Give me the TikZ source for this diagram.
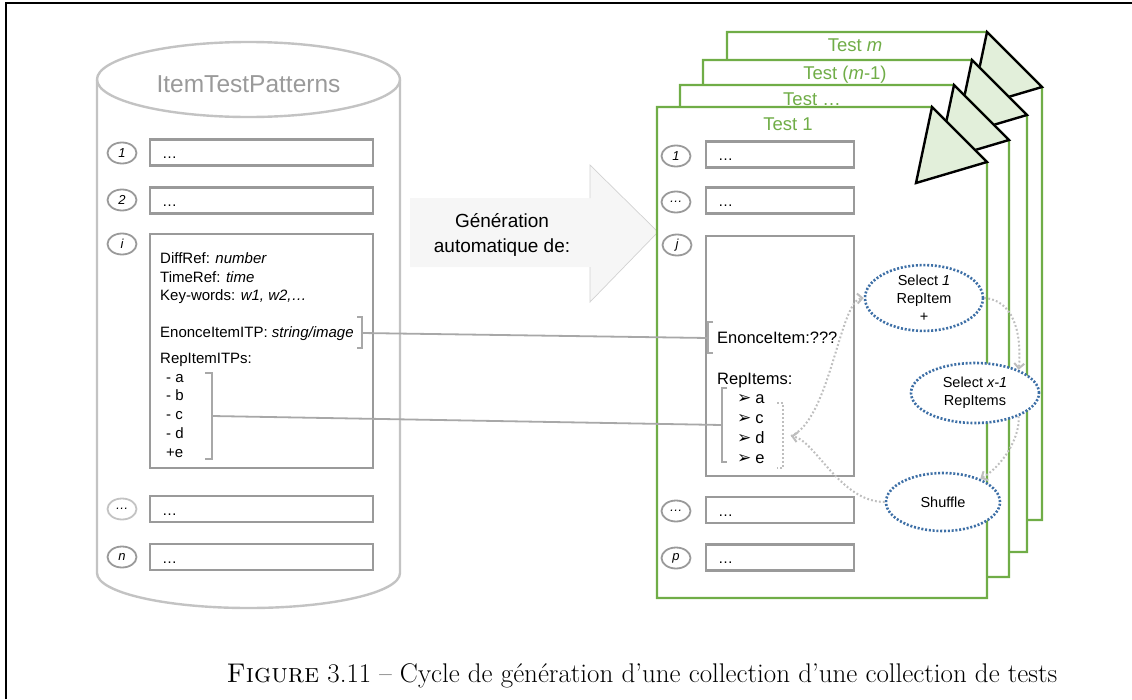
\documentclass[tikz,border=0pt]{standalone}
\usepackage{fontspec}
\newfontfamily\arialfont{Liberation Sans}
\newfontfamily\dingfont{DejaVu Sans}
\usetikzlibrary{shapes.geometric, arrows.meta}

\definecolor{boxgray}{HTML}{9A9A9A}
\definecolor{cylgray}{HTML}{C3C3C3}
\definecolor{linkgray}{HTML}{A8A8A8}
\definecolor{flowgray}{HTML}{BEBEBE}
\definecolor{testgreen}{HTML}{70AD47}
\definecolor{foldgreen}{HTML}{E2EFDA}
\definecolor{selblue}{HTML}{3D6FA6}
\definecolor{arrowfill}{HTML}{F6F6F6}

\begin{document}
\begin{tikzpicture}[x=1pt, y=-1pt,
  rowbox/.style={draw=boxgray, line width=2.4pt, inner xsep=12pt, inner ysep=0pt, text width=#1, text height=12pt, text depth=0pt, minimum height=26pt, align=left, font=\arialfont\fontsize{15}{18}\selectfont},
  numlabel/.style={draw=boxgray, line width=1.8pt, ellipse, minimum width=29pt, minimum height=21pt, inner sep=0pt, font=\arialfont\itshape\fontsize{13}{15}\selectfont},
  itemtext/.style={anchor=base west, inner sep=0pt, font=\arialfont\fontsize{#1}{18}\selectfont},
  brack/.style={draw=linkgray, line width=2pt},
  link/.style={draw=linkgray, line width=1.8pt},
  page/.style={draw=testgreen, line width=2.4pt, fill=white, line join=miter},
  fold/.style={draw=black, line width=2.4pt, fill=foldgreen, line join=miter},
  pagetitle/.style={anchor=base, inner sep=0pt, text=testgreen, font=\arialfont\fontsize{18.5}{22}\selectfont},
  action/.style={draw=selblue, fill=white, line width=2.6pt, dash pattern=on 2pt off 1.8pt, ellipse, inner sep=0pt, align=center, font=\arialfont\fontsize{14.5}{18}\selectfont},
  flow/.style={draw=flowgray, line width=2pt, dash pattern=on 1.8pt off 2.2pt, -{Straight Barb[length=5pt, width=10pt]}}
]
  \useasboundingbox (0,0) rectangle (1132,699);
  \draw [line width=1.4pt] (6,699) -- (6,3) -- (1132,3);

  % ItemTestPatterns repository
  \draw [cylgray, line width=2.4pt] (97,80) -- (97,573) arc [start angle=180, end angle=0, x radius=151.5, y radius=35] -- (400,80);
  \draw [cylgray, line width=2.4pt] (248.5,79.5) ellipse [x radius=151.5, y radius=37.5];
  \node (itp) at (248.5,84) [text=boxgray, font=\arialfont\fontsize{24.5}{28}\selectfont] {ItemTestPatterns};

  \node (l1) at (261.5,152.5) [rowbox=199pt] {…};
  \node (l2) at (261.5,200.5) [rowbox=199pt] {…};
  \node (li) at (261.5,351) [rowbox=199pt, minimum height=234pt] {};
  \node (lk) at (261.5,509) [rowbox=199pt] {…};
  \node (ln) at (261.5,557) [rowbox=199pt] {…};
  \node (c1) at (122,153) [numlabel] {1};
  \node (c2) at (122,200) [numlabel] {2};
  \node (ci) at (122,244) [numlabel] {i};
  \node (ck) at (122,509) [numlabel, draw=cylgray] {…};
  \node (cn) at (122,557) [numlabel] {n};

  \node (diffref) at (160,263) [itemtext=15] {DiffRef: \textit{number}};
  \node (timeref) at (160,282) [itemtext=15] {TimeRef: \textit{time}};
  \node (keywords) at (160,300.5) [itemtext=15] {Key-words: \textit{w1, w2,…}};
  \node (enitp) at (160,337.5) [itemtext=15] {EnonceItemITP: \textit{string/image}};
  \node (repitp) at (160,363) [itemtext=15] {RepItemITPs:};
  \foreach \t [count=\k] in {- a, - b, - c, - d, +e}
    \node (itp\k) at (166,{382+18.8*(\k-1)}) [itemtext=15] {\t};

  \draw [brack] (357,317) -- (362,317) -- (362,348) -- (357,348);
  \coordinate (enL) at (362,333);
  \draw [brack] (205,373) -- (212,373) -- (212,459) -- (205,459);
  \coordinate (repL) at (212,416);

  % generation arrow
  \fill [arrowfill] (410,198) -- (590,198) -- (590,165) -- (658,232) -- (590,302) -- (590,267) -- (410,267) -- cycle;
  \draw [gray!35, line width=0.7pt] (590,198) -- (590,165) -- (658,232) -- (590,302) -- (590,267);
  \node (gen) at (502,235) [align=center, font=\arialfont\fontsize{19}{25}\selectfont] {Génération\\automatique de:};

  % tests
  \foreach \l/\t/\r/\b/\tx/\ty/\ttl [count=\p] in {
      727/32/1042/520/855/51.5/{Test \textit{m}},
      703/60/1027/552/845/79.5/{Test (\textit{m}-1)},
      680/85/1009/577/812/105.5/{Test …},
      657/107/987/598/788/130.5/{Test 1}} {
    \draw [page] (\l,\t) -- (\r-55,\t) -- (\r,\t+55) -- (\r,\b) -- (\l,\b) -- cycle;
    \draw [fold] (\r-55,\t) -- (\r,\t+55) -- (\r-71,\t+76) -- cycle;
    \node (title\p) at (\tx,\ty) [pagetitle] {\ttl};
  }

  \node (b1) at (780,154.5) [rowbox=124pt] {…};
  \node (b2) at (780,200.5) [rowbox=124pt] {…};
  \node (bj) at (780,356) [rowbox=124pt, minimum height=240pt] {};
  \node (bk) at (780,510) [rowbox=124pt] {…};
  \node (bp) at (780,557.5) [rowbox=124pt] {…};
  \node (r1) at (676,156) [numlabel] {1};
  \node (r2) at (676,202) [numlabel] {…};
  \node (rj) at (677,245) [numlabel] {j};
  \node (rk) at (676,511) [numlabel] {…};
  \node (rp) at (676,558) [numlabel] {p};

  \node (enitem) at (717,343) [itemtext=16.5] {EnonceItem:???};
  \node (repitems) at (717,384) [itemtext=16.5] {RepItems:};
  \foreach \t [count=\k] in {a, c, d, e}
    \node (rep\k) at (737,{403+20*(\k-1)}) [itemtext=16.5] {{\dingfont\fontsize{17}{18}\selectfont ➢}\hspace{4pt}\t};

  \draw [brack] (713,322) -- (708,322) -- (708,353) -- (713,353);
  \coordinate (enR) at (708,338);
  \draw [brack] (727,388) -- (722,388) -- (722,462) -- (727,462);
  \coordinate (repR) at (722,425);
  \draw [flowgray, line width=2pt, dash pattern=on 1.8pt off 2.2pt] (777,403) -- (783,403) -- (783,468) -- (777,468);
  \coordinate (selbr) at (791,436);

  \draw [link] (enL) -- (enR);
  \draw [link] (repL) -- (repR);

  % selection cycle
  \node (sel1) at (924,298) [action, minimum width=118pt, minimum height=58pt] {Select \textit{1}\\RepItem\\+};
  \node (selx) at (975,393) [action, minimum width=128pt, minimum height=60pt] {Select \textit{x-1}\\RepItems};
  \node (shuf) at (943,502) [action, minimum width=114pt, minimum height=58pt] {Shuffle};

  \draw [flow] (selbr) .. controls (830,420) and (840,300) .. (sel1.west);
  \draw [flow] (sel1.east) .. controls (1012,300) and (1022,330) .. (selx.28);
  \draw [flow] (selx.-28) .. controls (1020,440) and (1000,468) .. (shuf.32);
  \draw [flow] (shuf.west) .. controls (840,502) and (815,440) .. (selbr);

  \node (caption) at (642,682) [anchor=base, font=\fontsize{27}{32}\selectfont] {\textsc{Figure} 3.11 – Cycle de génération d’une collection d’une collection de tests};
\end{tikzpicture}
\end{document}
